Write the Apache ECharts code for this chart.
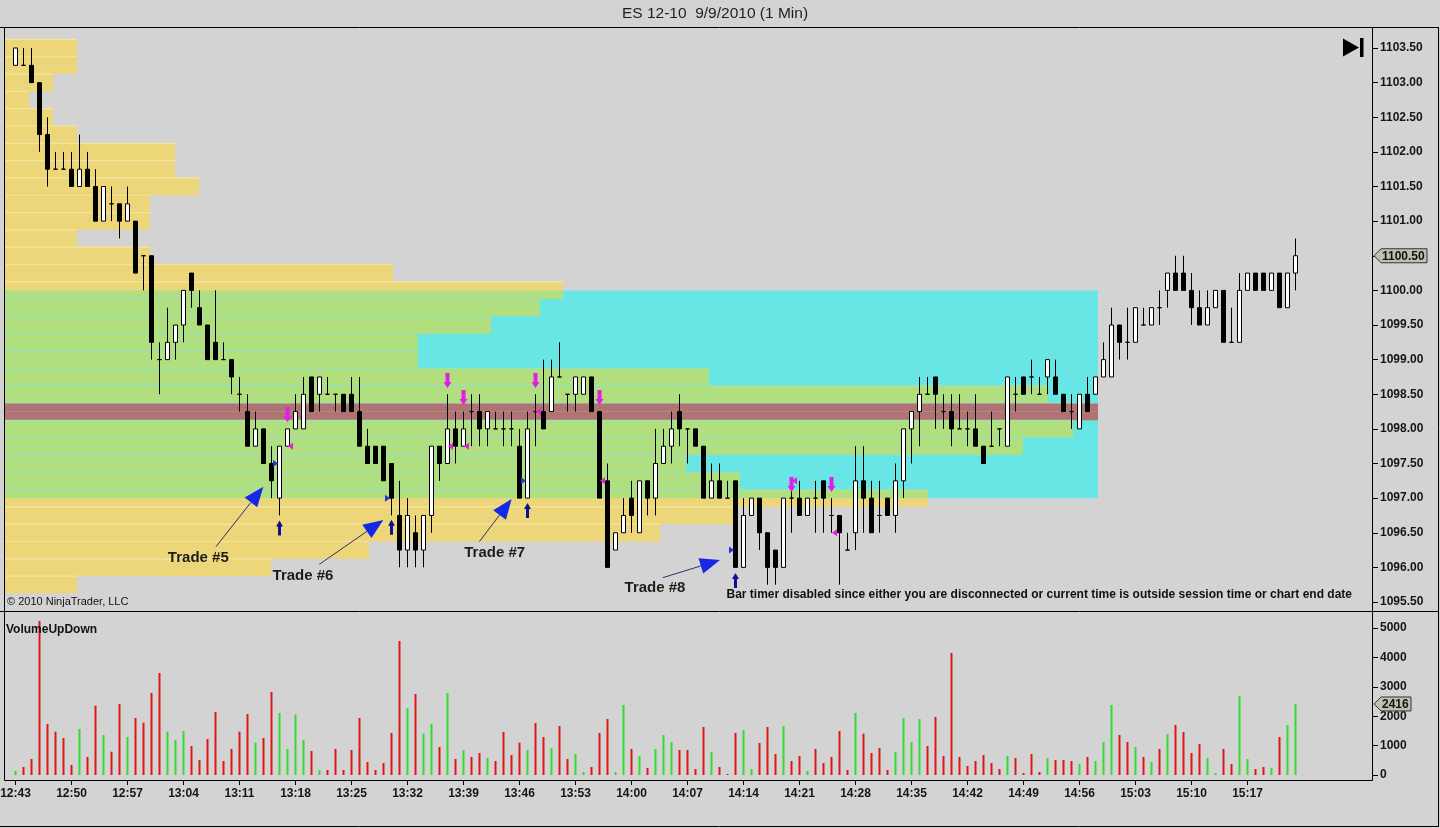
<!DOCTYPE html>
<html><head><meta charset="utf-8">
<script src="https://cdn.jsdelivr.net/npm/echarts@6/dist/echarts.min.js"></script>
<style>html,body{margin:0;padding:0;background:#d3d3d3;overflow:hidden}#c{width:1440px;height:828px}</style>
</head><body><div id="c"></div>
<script>
// ---------- data ----------
const timeLabels = ['12:43','12:50','12:57','13:04','13:11','13:18','13:25','13:32','13:39','13:46','13:53','14:00','14:07','14:14','14:21','14:28','14:35','14:42','14:49','14:56','15:03','15:10','15:17'];
const timeTickIndex = [0,7,14,21,28,35,42,49,56,63,70,77,84,91,98,105,112,119,126,133,140,147,154];
const priceTicks = [1095.5,1096,1096.5,1097,1097.5,1098,1098.5,1099,1099.5,1100,1100.5,1101,1101.5,1102,1102.5,1103,1103.5];
const volumeTicks = [0,1000,2000,3000,4000,5000];

const opens = [1103.25,1103.25,1103.25,1103.00,1102.25,1101.75,1101.75,1101.75,1101.50,1101.75,
1101.50,1101.00,1101.25,1101.25,1101.00,1101.00,1100.50,1100.50,1099.00,1099.00,
1099.25,1099.50,1100.25,1099.75,1099.50,1099.25,1099.00,1099.00,1098.50,1098.25,
1097.75,1098.00,1097.50,1097.00,1097.75,1098.00,1098.00,1098.75,1098.50,1098.50,
1098.50,1098.50,1098.50,1098.25,1097.75,1097.75,1097.75,1097.50,1096.75,1096.25,
1096.50,1096.25,1096.75,1097.75,1097.50,1098.00,1097.75,1098.25,1098.25,1098.00,
1098.00,1098.00,1098.00,1097.75,1097.00,1098.25,1098.25,1098.25,1098.75,1098.50,
1098.50,1098.50,1098.75,1098.25,1097.25,1096.25,1096.50,1097.00,1096.50,1097.25,
1097.00,1097.50,1097.75,1098.25,1098.00,1098.00,1097.75,1097.00,1097.25,1097.00,
1097.25,1096.00,1096.75,1097.00,1096.50,1096.25,1096.00,1097.00,1097.00,1096.75,
1097.00,1097.25,1096.75,1096.75,1096.25,1096.50,1097.25,1097.00,1096.75,1097.00,
1096.75,1097.25,1098.00,1098.25,1098.50,1098.75,1098.25,1098.25,1098.00,1098.00,
1098.00,1097.75,1097.75,1098.00,1097.75,1098.50,1098.75,1098.75,1098.50,1098.75,
1098.75,1098.50,1098.25,1098.00,1098.50,1098.50,1098.75,1098.75,1099.50,1099.25,
1099.25,1099.50,1099.50,1099.75,1100.00,1100.25,1100.25,1100.00,1099.75,1099.50,
1099.75,1100.00,1099.25,1099.25,1100.00,1100.25,1100.25,1100.00,1100.25,1099.75,
1100.25];
const highs = [1103.50,1103.50,1103.50,1103.00,1102.50,1102.00,1102.00,1102.00,1102.25,1102.00,
1101.75,1101.50,1101.50,1101.25,1101.50,1101.00,1100.50,1100.50,1099.25,1099.75,
1099.50,1100.00,1100.25,1100.00,1099.50,1100.00,1099.25,1099.00,1098.75,1098.50,
1098.25,1098.00,1097.75,1097.75,1098.00,1098.50,1098.75,1098.75,1098.75,1098.75,
1098.50,1098.50,1098.75,1098.75,1098.00,1097.75,1097.75,1097.50,1097.25,1097.00,
1096.75,1096.75,1097.75,1097.75,1098.50,1098.25,1098.25,1098.50,1098.50,1098.25,
1098.25,1098.25,1098.25,1098.00,1098.25,1098.50,1099.00,1099.00,1099.25,1098.50,
1098.75,1098.75,1098.75,1098.25,1097.50,1096.50,1097.00,1097.25,1097.25,1097.25,
1098.00,1098.00,1098.25,1098.50,1098.00,1098.00,1097.75,1097.50,1097.50,1097.25,
1097.25,1097.00,1097.00,1097.00,1096.50,1096.25,1097.00,1097.25,1097.25,1097.00,
1097.25,1097.25,1097.00,1096.75,1096.50,1097.75,1097.75,1097.25,1097.25,1097.00,
1097.50,1098.00,1098.25,1098.75,1098.75,1098.75,1098.50,1098.50,1098.50,1098.25,
1098.50,1097.75,1098.25,1098.00,1098.75,1098.75,1098.75,1099.00,1098.75,1099.00,
1099.00,1098.50,1098.50,1098.50,1098.75,1098.75,1099.25,1099.75,1099.50,1099.75,
1099.75,1099.75,1099.75,1100.00,1100.25,1100.50,1100.50,1100.25,1100.00,1100.00,
1100.00,1100.00,1099.75,1100.25,1100.25,1100.25,1100.25,1100.25,1100.25,1100.25,
1100.75];
const lows = [1103.25,1103.25,1103.00,1102.00,1101.50,1101.75,1101.75,1101.50,1101.50,1101.50,
1101.00,1101.00,1101.00,1100.75,1101.00,1100.25,1100.00,1099.00,1098.50,1099.00,
1099.00,1099.25,1099.75,1099.50,1099.00,1099.00,1099.00,1098.50,1098.25,1097.75,
1097.75,1097.50,1097.00,1096.75,1097.75,1098.00,1098.00,1098.25,1098.25,1098.50,
1098.25,1098.25,1098.25,1097.75,1097.50,1097.50,1097.25,1096.75,1096.00,1096.00,
1096.00,1096.00,1096.50,1097.25,1097.50,1097.50,1097.75,1097.75,1097.75,1097.75,
1098.00,1097.75,1097.75,1097.00,1097.00,1097.75,1098.00,1098.25,1098.75,1098.25,
1098.25,1098.50,1098.25,1097.00,1096.00,1096.25,1096.50,1096.50,1096.50,1096.75,
1096.75,1097.50,1097.50,1097.75,1097.50,1097.75,1097.00,1097.00,1097.00,1097.00,
1096.00,1096.00,1096.75,1096.25,1095.75,1095.75,1096.00,1096.50,1096.75,1096.75,
1096.50,1096.50,1096.50,1095.75,1096.25,1096.25,1096.50,1096.50,1096.50,1096.75,
1096.50,1097.00,1097.50,1097.75,1098.50,1098.00,1098.00,1097.75,1098.00,1097.75,
1097.75,1097.50,1097.75,1097.75,1097.75,1098.25,1098.50,1098.50,1098.50,1098.50,
1098.50,1098.25,1098.00,1098.00,1098.25,1098.50,1098.75,1098.75,1099.00,1099.00,
1099.25,1099.50,1099.50,1099.50,1099.75,1100.00,1100.00,1099.50,1099.50,1099.50,
1099.75,1099.25,1099.25,1099.25,1100.00,1100.00,1100.00,1100.00,1099.75,1099.75,
1100.00];
const closes = [1103.50,1103.25,1103.00,1102.25,1101.75,1101.75,1101.75,1101.50,1101.75,1101.50,
1101.00,1101.50,1101.25,1101.00,1101.25,1100.25,1100.50,1099.25,1099.00,1099.25,
1099.50,1100.00,1100.00,1099.50,1099.00,1099.00,1099.00,1098.75,1098.50,1097.75,
1098.00,1097.50,1097.25,1097.75,1098.00,1098.25,1098.50,1098.25,1098.75,1098.50,
1098.50,1098.25,1098.25,1097.75,1097.50,1097.50,1097.25,1097.00,1096.25,1096.75,
1096.25,1096.75,1097.75,1097.50,1098.00,1097.75,1098.00,1098.25,1098.00,1098.25,
1098.00,1098.00,1098.00,1097.00,1098.00,1098.25,1098.00,1098.75,1098.75,1098.50,
1098.75,1098.75,1098.25,1097.00,1096.00,1096.50,1096.75,1096.75,1097.25,1097.00,
1097.50,1097.75,1098.00,1098.00,1098.00,1097.75,1097.00,1097.25,1097.00,1097.00,
1096.00,1096.75,1097.00,1096.50,1096.00,1096.00,1097.00,1097.00,1096.75,1097.00,
1097.00,1097.00,1096.75,1096.50,1096.25,1097.25,1097.00,1096.50,1096.75,1096.75,
1097.25,1098.00,1098.25,1098.50,1098.50,1098.50,1098.25,1098.00,1098.00,1098.00,
1097.75,1097.50,1097.75,1098.00,1098.75,1098.50,1098.50,1098.75,1098.50,1099.00,
1098.50,1098.25,1098.25,1098.50,1098.25,1098.75,1099.00,1099.50,1099.25,1099.25,
1099.75,1099.50,1099.75,1099.75,1100.25,1100.00,1100.00,1099.75,1099.50,1099.75,
1100.00,1099.25,1099.25,1100.00,1100.25,1100.00,1100.00,1100.25,1099.75,1100.25,
1100.50];
const volumes = [136,272,544,5240,1735,1474,1259,340,1565,612,
2359,1361,794,2415,1293,1939,1780,2790,3470,1474,
1191,1497,987,510,1225,2143,476,885,1474,2075,
1100,1259,2824,2109,885,2053,1191,816,170,170,
885,170,850,1939,442,170,408,1429,4559,2279,
2756,1406,1735,953,2790,544,850,612,748,578,
476,1463,680,1100,850,1769,1293,918,1667,544,
714,102,272,1429,1905,102,2381,885,646,238,
885,1361,1123,850,850,204,1633,782,272,34,
1429,1531,204,1089,1633,714,1667,476,646,136,
885,408,612,1497,170,2109,1406,748,918,170,
782,1939,1123,1905,987,1973,646,4150,612,306,
476,680,408,204,646,578,68,714,102,578,
510,510,476,374,612,476,1123,2381,1361,1123,
953,612,442,885,1395,1701,1463,748,1055,578,
68,885,374,2688,544,204,272,238,1293,1701,
2416];

// volume profile (relative volume per price level)
const profilePrices = [1103.50,1103.25,1103.00,1102.75,1102.50,1102.25,1102.00,1101.75,1101.50,1101.25,
1101.00,1100.75,1100.50,1100.25,1100.00,1099.75,1099.50,1099.25,1099.00,1098.75,
1098.50,1098.25,1098.00,1097.75,1097.50,1097.25,1097.00,1096.75,1096.50,1096.25,
1096.00,1095.75];
const profileVolumes = [72,72,48,24,48,72,170,170,194,145,
145,72,145,388,558,535,486,413,413,704,
1043,1093,1068,1018,681,735,923,730,655,364,
266,72];
const pocPrice = 1098.25;
const valueAreaHigh = 1100.00;
const valueAreaLow = 1097.00;

// trade markers [bar index, price]
const entryArrows = [[33,1096.57],[47,1096.58],[64,1096.82],[90,1095.81]];
const entryMarks = [[33,1097.50],[47,1097.00],[64,1097.25],[90,1096.25]];
const exitArrows = [[34,1098.205],[54,1098.70],[56,1098.453],[65,1098.70],[73,1098.453],[97,1097.197],[102,1097.197]];
const exitMarks = [[34,1097.75],[54,1097.75],[56,1097.75],[65,1098.25],[73,1097.25],[97,1097.25],[102,1096.50]];

// trade annotations
const tradeLabels = ['Trade #5','Trade #6','Trade #7','Trade #8'];
const tradeTextPos = [[22.85,1096.131],[35.94,1095.875],[59.90,1096.203],[79.94,1095.702]];
const tradeLineStart = [[25.06,1096.299],[37.98,1096.044],[57.98,1096.371],[80.90,1095.851]];
const tradeArrowTip = [[30.98,1097.165],[45.98,1096.684],[62.02,1096.987],[88.06,1096.106]];

// ---------- styling ----------
const FONT = '"Liberation Sans", Arial, sans-serif';
const C_YELLOW = '#ecd678', C_GREEN = '#b2df7e', C_CYAN = '#68e6e6', C_POC = '#b27272';
const SEP_YELLOW = '#f3e4a4', SEP_GREEN = '#94e2c4';
const TICK = 0.25;

const candleData = opens.map((o, i) => [i, o, closes[i], lows[i], highs[i]]);
const volumeData = volumes.map((v, i) => ({value: [i, v], itemStyle: {color: closes[i] > opens[i] ? '#2fdc2f' : '#dd1616'}}));
const profileData = profilePrices.map((p, i) => [profileVolumes[i], p]);
const profileMax = Math.max(...profileVolumes);
const annotationData = tradeLabels.map((t, k) => [tradeTextPos[k][0], tradeTextPos[k][1], tradeLineStart[k][0], tradeLineStart[k][1], tradeArrowTip[k][0], tradeArrowTip[k][1], k]);
const lastIdx = closes.length - 1;

const X_MAX = 169.5625;
const PRICE_MIN = 1095.5, PRICE_MAX = 1104.0;

function profileItem(params, api) {
  const vol = api.value(0), p = api.value(1), h = TICK / 2;
  const children = [];
  const isPoc = Math.abs(p - pocPrice) < 1e-6;
  const halves = [[p, p + h], [p - h, p]];
  let topColor = null;
  halves.forEach(([lo, hi], k) => {
    const tl = api.coord([vol, hi]);
    const br = api.coord([0, lo]);
    const mid = (lo + hi) / 2;
    const inVA = mid > valueAreaLow && mid < valueAreaHigh;
    const fill = isPoc ? C_POC : (inVA ? C_GREEN : C_YELLOW);
    if (k === 0) topColor = (isPoc || inVA) ? SEP_GREEN : SEP_YELLOW;
    children.push({type: 'rect', shape: {x: br[0], y: tl[1], width: tl[0] - br[0], height: br[1] - tl[1]}, style: {fill}});
  });
  const a = api.coord([0, p + h]), b = api.coord([vol, p + h]);
  children.push({type: 'rect', shape: {x: a[0], y: a[1] - 0.5, width: b[0] - a[0], height: 1.2}, style: {fill: topColor}});
  return {type: 'group', children};
}

function boxItem(params, api) {
  const tl = api.coord([0, api.value(2)]);
  const br = api.coord([api.value(0), api.value(1)]);
  return {type: 'rect', shape: {x: tl[0], y: tl[1], width: br[0] - tl[0], height: br[1] - tl[1]}, style: {fill: C_CYAN}};
}

function annotationItem(params, api) {
  const t = api.coord([api.value(0), api.value(1)]);
  const s = api.coord([api.value(2), api.value(3)]);
  const e = api.coord([api.value(4), api.value(5)]);
  const k = api.value(6);
  const dx = e[0] - s[0], dy = e[1] - s[1], L = Math.hypot(dx, dy);
  const ux = dx / L, uy = dy / L, nx = -uy, ny = ux;
  const bx = e[0] - ux * 20, by = e[1] - uy * 20;
  return {type: 'group', children: [
    {type: 'line', shape: {x1: s[0], y1: s[1], x2: bx, y2: by}, style: {stroke: '#2d2d7d', lineWidth: 1}},
    {type: 'polygon', shape: {points: [[e[0], e[1]], [bx + nx * 8, by + ny * 8], [bx - nx * 8, by - ny * 8]]}, style: {fill: '#1428e6'}},
    {type: 'text', style: {text: tradeLabels[k], x: t[0], y: t[1], font: 'bold 15px ' + FONT, fill: '#1c1c1c', align: 'center', verticalAlign: 'middle'}}
  ]};
}

function tagItem(fmt, w) {
  return function (params, api) {
    const y = api.coord([api.value(0), api.value(1)])[1];
    const x0 = params.coordSys.x + params.coordSys.width;
    return {type: 'group', children: [
      {type: 'polygon', shape: {points: [[x0 + 2, y], [x0 + 9, y - 7], [x0 + w, y - 7], [x0 + w, y + 7], [x0 + 9, y + 7]]}, style: {fill: '#c2beb4', stroke: '#333', lineWidth: 1}},
      {type: 'text', style: {text: fmt(api.value(1)), x: x0 + 10, y: y + 0.5, font: 'bold 12px ' + FONT, fill: '#111', align: 'left', verticalAlign: 'middle'}}
    ]};
  };
}

const axisLabelBase = {color: '#151515', fontFamily: FONT, fontSize: 12, fontWeight: 'bold'};

const option = {
  animation: false,
  backgroundColor: '#d3d3d3',
  grid: [
    {left: 15.5, right: 68, top: 48 - 0.5 * 69.25, bottom: 828 - 602, containLabel: false, outerBoundsMode: 'none'},
    {left: 5, right: 68, top: 48 - 0.5 * 69.25, bottom: 828 - 602, containLabel: false, outerBoundsMode: 'none'},
    {left: 15.5, right: 68, top: 775 - 6000 * 0.0294, bottom: 828 - 775, containLabel: false, outerBoundsMode: 'none'}
  ],
  xAxis: [
    {type: 'value', gridIndex: 0, min: 0, max: X_MAX, show: false, axisLine: {onZero: false}},
    {type: 'value', gridIndex: 1, min: 0, max: 1367, show: false, axisLine: {onZero: false}},
    {type: 'value', gridIndex: 2, min: 0, max: X_MAX, position: 'bottom', offset: 5,
      axisLine: {show: false, onZero: false}, splitLine: {show: false},
      axisTick: {show: true, length: 5, inside: false, customValues: timeTickIndex, lineStyle: {color: '#000'}},
      axisLabel: Object.assign({}, axisLabelBase, {margin: 8, customValues: timeTickIndex,
        formatter: v => timeLabels[timeTickIndex.indexOf(Math.round(v))] || ''})}
  ],
  yAxis: [
    {type: 'value', gridIndex: 0, min: PRICE_MIN, max: PRICE_MAX, position: 'right',
      axisLine: {show: false, onZero: false}, splitLine: {show: false},
      axisTick: {show: true, length: 6, inside: false, customValues: priceTicks, lineStyle: {color: '#000'}},
      axisLabel: Object.assign({}, axisLabelBase, {margin: 8, customValues: priceTicks, formatter: v => v.toFixed(2)})},
    {type: 'value', gridIndex: 1, min: PRICE_MIN, max: PRICE_MAX, show: false, axisLine: {onZero: false}},
    {type: 'value', gridIndex: 2, min: 0, max: 6000, position: 'right',
      axisLine: {show: false, onZero: false}, splitLine: {show: false},
      axisTick: {show: true, length: 6, inside: false, customValues: volumeTicks, lineStyle: {color: '#000'}},
      axisLabel: Object.assign({}, axisLabelBase, {margin: 8, customValues: volumeTicks, formatter: v => String(v)})}
  ],
  series: [
    {type: 'custom', name: 'valueArea', xAxisIndex: 1, yAxisIndex: 1, z: 1, silent: true,
      data: [[profileMax, valueAreaLow, valueAreaHigh]], renderItem: boxItem},
    {type: 'custom', name: 'profile', xAxisIndex: 1, yAxisIndex: 1, z: 2, silent: true,
      data: profileData, renderItem: profileItem},
    {type: 'candlestick', name: 'ES 12-10', xAxisIndex: 0, yAxisIndex: 0, z: 5, silent: true, clip: false,
      barWidth: 5, data: candleData, encode: {x: 0, y: [1, 2, 3, 4]},
      itemStyle: {color: '#ffffff', color0: '#000000', borderColor: '#000000', borderColor0: '#000000', borderColorDoji: '#000000', borderWidth: 1}},
    {type: 'bar', name: 'VolumeUpDown', xAxisIndex: 2, yAxisIndex: 2, z: 5, silent: true, barWidth: 2,
      data: volumeData},
    {type: 'scatter', name: 'entryArrow', xAxisIndex: 0, yAxisIndex: 0, z: 6, silent: true,
      symbol: 'path://M3.5,0L7,6L5,6L5,15L2,15L2,6L0,6Z', symbolSize: [7, 15], itemStyle: {color: '#10108e', opacity: 1}, data: entryArrows},
    {type: 'scatter', name: 'entryMark', xAxisIndex: 0, yAxisIndex: 0, z: 6, silent: true,
      symbol: 'path://M0,0L5,3.5L0,7Z', symbolSize: [5, 7], symbolOffset: [-4, 0], itemStyle: {color: '#2236d8', opacity: 1}, data: entryMarks},
    {type: 'scatter', name: 'exitArrow', xAxisIndex: 0, yAxisIndex: 0, z: 6, silent: true,
      symbol: 'path://M2,0L6,0L6,9L8,9L4,15L0,9L2,9Z', symbolSize: [8, 15], itemStyle: {color: '#e41ee4', opacity: 1}, data: exitArrows},
    {type: 'scatter', name: 'exitMark', xAxisIndex: 0, yAxisIndex: 0, z: 6, silent: true,
      symbol: 'path://M5,0L0,3.5L5,7Z', symbolSize: [5, 7], symbolOffset: [3, 0], itemStyle: {color: '#e41ee4', opacity: 1}, data: exitMarks},
    {type: 'custom', name: 'trades', xAxisIndex: 0, yAxisIndex: 0, z: 7, silent: true,
      data: annotationData, renderItem: annotationItem},
    {type: 'custom', name: 'lastPrice', xAxisIndex: 0, yAxisIndex: 0, z: 9, silent: true,
      data: [[lastIdx, closes[lastIdx]]], renderItem: tagItem(v => v.toFixed(2), 55)},
    {type: 'custom', name: 'lastVolume', xAxisIndex: 2, yAxisIndex: 2, z: 9, silent: true,
      data: [[lastIdx, volumes[lastIdx]]], renderItem: tagItem(v => String(v), 39)}
  ],
  graphic: [
    {type: 'text', z: 50, x: 715, y: 13.5, style: {text: 'ES 12-10  9/9/2010 (1 Min)', font: '15.5px ' + FONT, fill: '#1e1e1e', align: 'center', verticalAlign: 'middle'}},
    {type: 'line', z: 50, shape: {x1: 0, y1: 27.5, x2: 1439, y2: 27.5}, style: {stroke: '#000', lineWidth: 1}},
    {type: 'line', z: 50, shape: {x1: 0, y1: 611.5, x2: 1439, y2: 611.5}, style: {stroke: '#000', lineWidth: 1}},
    {type: 'line', z: 50, shape: {x1: 1372.5, y1: 27.5, x2: 1372.5, y2: 780.5}, style: {stroke: '#000', lineWidth: 1}},
    {type: 'line', z: 50, shape: {x1: 4.5, y1: 27.5, x2: 4.5, y2: 780.5}, style: {stroke: '#000', lineWidth: 1}},
    {type: 'line', z: 50, shape: {x1: 4.5, y1: 780.5, x2: 1372.5, y2: 780.5}, style: {stroke: '#000', lineWidth: 1}},
    {type: 'line', z: 50, shape: {x1: 1438.5, y1: 27.5, x2: 1438.5, y2: 827}, style: {stroke: '#000', lineWidth: 1}},
    {type: 'line', z: 50, shape: {x1: 0, y1: 826.5, x2: 1439, y2: 826.5}, style: {stroke: '#000', lineWidth: 1}},
    {type: 'polygon', z: 50, shape: {points: [[1343, 38.5], [1343, 56.5], [1359, 47.5]]}, style: {fill: '#000'}},
    {type: 'rect', z: 50, shape: {x: 1360, y: 38, width: 3.5, height: 19}, style: {fill: '#000'}},
    {type: 'text', z: 50, x: 7, y: 602, style: {text: '\u00a9 2010 NinjaTrader, LLC', font: '11px ' + FONT, fill: '#111', align: 'left', verticalAlign: 'middle'}},
    {type: 'text', z: 50, x: 1352, y: 594.5, style: {text: 'Bar timer disabled since either you are disconnected or current time is outside session time or chart end date', font: 'bold 12px ' + FONT, fill: '#111', align: 'right', verticalAlign: 'middle'}},
    {type: 'text', z: 50, x: 6, y: 629.5, style: {text: 'VolumeUpDown', font: 'bold 12px ' + FONT, fill: '#111', align: 'left', verticalAlign: 'middle'}}
  ]
};

const chart = echarts.init(document.getElementById('c'), null, {renderer: 'canvas', width: 1440, height: 828});
chart.setOption(option);
</script>
</body></html>
